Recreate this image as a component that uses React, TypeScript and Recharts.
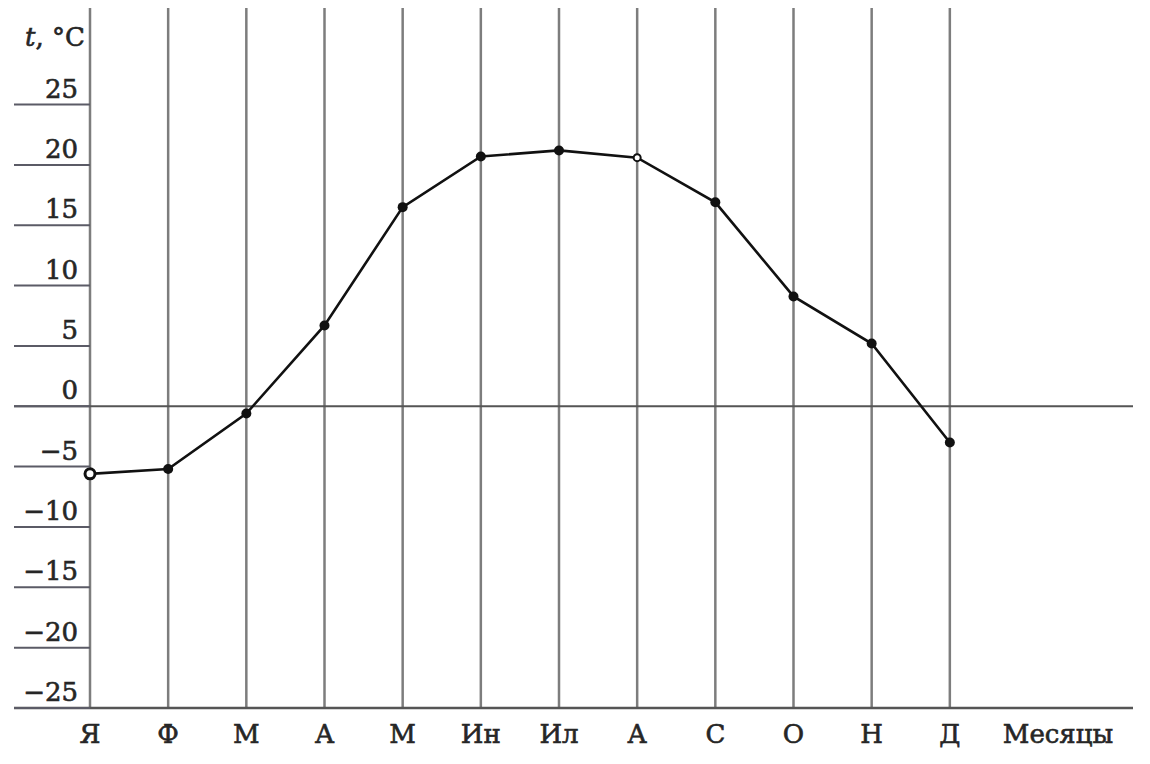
import { LineChart, Line, XAxis, YAxis, ReferenceLine } from 'recharts';

// Average monthly temperature, °C
const MONTHS = ['Я', 'Ф', 'М', 'А', 'М', 'Ин', 'Ил', 'А', 'С', 'О', 'Н', 'Д'];
const TEMPS = [-5.6, -5.2, -0.6, 6.7, 16.5, 20.7, 21.2, 20.6, 16.9, 9.1, 5.2, -3.0];
const Y_TICKS = [-25, -20, -15, -10, -5, 0, 5, 10, 15, 20, 25];
const X_TITLE = 'Месяцы';
const Y_TITLE = '°C';
const HOLLOW_POINTS = [0, 7];

const FONT = '"DejaVu Serif", "Liberation Serif", serif';
const TEXT = '#262626';
const PLOT_LEFT = 14;
// slight outline so the text looks as heavy as the printed original
const textStyle = { fontFamily: FONT, fontSize: 26, fill: TEXT, stroke: TEXT, strokeWidth: 0.6 };

const data = MONTHS.map((month, i) => ({ idx: i, month, t: TEMPS[i] }));
const xTicks = [...MONTHS.map((_, i) => i), MONTHS.length];

function YTick({ y, payload }: any) {
  return (
    <g>
      <line x1={PLOT_LEFT} x2={PLOT_LEFT + 76} y1={y} y2={y} stroke="#5b5b66" strokeWidth={2} />
      <text x={PLOT_LEFT + 64} y={y - 7} textAnchor="end" {...textStyle}>
        {payload.value < 0 ? `−${Math.abs(payload.value)}` : payload.value}
      </text>
    </g>
  );
}

function XTick({ x, y, payload }: any) {
  const isTitle = payload.value >= MONTHS.length;
  return (
    <text x={isTitle ? x + 30 : x} y={y + 27} textAnchor="middle" {...textStyle}>
      {isTitle ? X_TITLE : MONTHS[payload.value]}
    </text>
  );
}

function YTitle({ viewBox }: any) {
  return (
    <text x={PLOT_LEFT + 71} y={viewBox.y + 38} textAnchor="end" {...textStyle}>
      <tspan fontStyle="italic">t</tspan>
      <tspan>, {Y_TITLE}</tspan>
    </text>
  );
}

function Dot({ cx, cy, index }: any) {
  if (HOLLOW_POINTS.includes(index)) {
    return (
      <circle
        key={`dot-${index}`}
        cx={cx}
        cy={cy}
        r={index === 0 ? 5 : 3.5}
        fill="#fff"
        stroke="#111"
        strokeWidth={index === 0 ? 3 : 2}
      />
    );
  }
  return <circle key={`dot-${index}`} cx={cx} cy={cy} r={5} fill="#111" />;
}

export default function App() {
  return (
    <div style={{ width: 1150, height: 764, background: '#fff' }}>
      <style>{'body{margin:0}'}</style>
      <LineChart
        width={1150}
        height={764}
        data={data}
        margin={{ top: 8, right: 17, bottom: 16, left: 0 }}
      >
        <XAxis
          dataKey="idx"
          type="number"
          domain={[0, MONTHS.length]}
          ticks={xTicks}
          interval={0}
          height={40}
          padding={{ left: 76, right: 105 }}
          axisLine={{ stroke: '#555', strokeWidth: 2.5 }}
          tickLine={false}
          tick={<XTick />}
        />
        <YAxis
          type="number"
          domain={[-25, 33]}
          ticks={Y_TICKS}
          interval={0}
          width={PLOT_LEFT}
          axisLine={false}
          tickLine={false}
          tick={<YTick />}
          label={{ content: <YTitle /> }}
        />
        {MONTHS.map((_, i) => (
          <ReferenceLine key={`v-${i}`} x={i} stroke="#7d7d7d" strokeWidth={2.5} />
        ))}
        <ReferenceLine y={0} stroke="#555" strokeWidth={2} />
        <Line
          type="linear"
          dataKey="t"
          stroke="#111"
          strokeWidth={2.6}
          dot={<Dot />}
          activeDot={false}
          isAnimationActive={false}
        />
      </LineChart>
    </div>
  );
}
